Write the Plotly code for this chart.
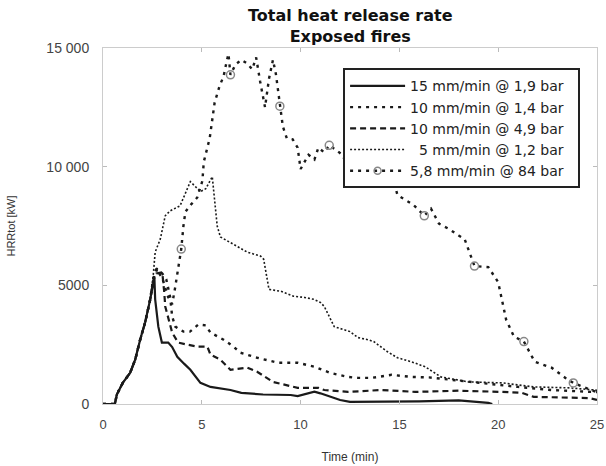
import plotly.graph_objects as go

# 15 mm/min @ 1,9 bar
t1 = [0, 0.6, 0.7, 1.0, 1.37, 1.63, 1.88, 2.13, 2.39, 2.54, 2.6, 2.64, 2.8, 2.98, 3.3, 3.5,
      3.76, 4.1, 4.42, 4.93, 5.44, 6.45, 7.0, 8.1, 9.5, 9.85, 10.3, 10.7, 11.0, 11.5, 12.0,
      12.5, 14.0, 16.0, 18.0, 19.0, 19.5, 19.7]
hrr1 = [0, 0, 400, 890, 1310, 1870, 2710, 3430, 4410, 5100, 5340, 4410, 3260, 2590, 2590, 2400,
        1990, 1700, 1440, 890, 720, 590, 470, 400, 380, 330, 420, 520, 450, 300, 170,
        90, 90, 110, 150, 100, 50, 0]

# 10 mm/min @ 1,4 bar
t2 = [0, 0.6, 0.7, 1.0, 1.37, 1.63, 1.88, 2.13, 2.39, 2.54, 2.74, 3.0, 3.2, 3.4, 3.5, 3.66,
      4.07, 4.4, 4.83, 5.2, 5.44, 6.1, 6.6, 6.96, 7.8, 8.84, 9.85, 10.7, 11.5, 12.4, 12.9,
      13.6, 14.6, 15.6, 16.5, 17.6, 19.3, 21.0, 22.7, 24.0, 25.0]
hrr2 = [0, 0, 400, 890, 1310, 1870, 2710, 3430, 4410, 5260, 5680, 5500, 5260, 4500, 3690, 3260,
        3050, 3050, 3350, 3310, 3010, 2710, 2420, 2160, 1950, 1740, 1740, 1570, 1310, 1140, 1100,
        1100, 1230, 1140, 1120, 1020, 890, 720, 590, 540, 500]

# 10 mm/min @ 4,9 bar
t3 = [0, 0.6, 0.7, 1.0, 1.37, 1.63, 1.88, 2.13, 2.39, 2.54, 2.7, 3.0, 3.1, 3.15, 3.5, 3.8,
      4.27, 4.77, 5.28, 5.44, 5.94, 6.45, 7.3, 7.8, 8.6, 9.85, 10.9, 11.2, 12.4, 14.1, 15.8,
      18.0, 20.2, 21.2, 21.8, 23.0, 24.6, 25.0]
hrr3 = [0, 0, 400, 890, 1310, 1870, 2710, 3430, 4410, 5200, 5500, 5550, 4700, 4110, 3010, 2590,
        2500, 2420, 2420, 2080, 1870, 1440, 1530, 1360, 930, 680, 680, 590, 510, 590, 510,
        560, 510, 470, 300, 280, 250, 170]

# 5 mm/min @ 1,2 bar
t4 = [0, 0.6, 0.7, 1.0, 1.37, 1.63, 1.88, 2.13, 2.39, 2.54, 2.64, 2.9, 3.15, 3.4, 3.9, 4.42,
      4.93, 5.2, 5.53, 5.78, 5.94, 6.6, 7.3, 7.98, 8.13, 8.4, 9.0, 9.65, 10.2, 10.67, 11.0,
      11.2, 11.5, 11.7, 12.5, 12.9, 13.4, 13.7, 14.4, 14.9, 15.6, 16.3, 17.1, 18.5, 20.2,
      21.8, 23.6, 24.9, 25.0]
hrr4 = [0, 0, 400, 890, 1310, 1870, 2710, 3430, 4410, 5400, 6400, 6950, 7930, 8140, 8350, 9370,
        8950, 9070, 9580, 7500, 7040, 6740, 6400, 6230, 6100, 4830, 4750, 4540, 4490, 4410, 4280,
        4110, 3560, 3260, 3050, 2800, 2710, 2630, 2200, 1950, 1780, 1570, 1140, 930, 890,
        720, 680, 590, 580]

# 5,8 mm/min @ 84 bar
t5 = [0, 0.6, 0.7, 1.0, 1.37, 1.63, 1.88, 2.13, 2.39, 2.54, 2.7, 3.0, 3.3, 3.5, 3.65, 3.8,
      3.96, 4.07, 4.17, 4.45, 4.77, 5.03, 5.1, 5.4, 5.65, 5.9, 6.1, 6.25, 6.35, 6.45, 6.7,
      7.0, 7.3, 7.55, 7.75, 7.95, 8.1, 8.2, 8.4, 8.6, 8.75, 8.95, 9.1, 9.3, 9.6, 9.85,
      10.0, 10.2, 10.4, 10.7, 10.9, 11.2, 11.45, 11.8, 12.1, 12.5, 13.0, 13.95, 14.7, 14.9,
      15.3, 15.7, 16.26, 16.6, 17.0, 17.5, 18.0, 18.3, 18.8, 19.5, 20.0, 20.2, 20.4, 20.8,
      21.3, 21.85, 22.7, 23.4, 23.8, 24.7, 25.0]
hrr5 = [0, 0, 400, 890, 1310, 1870, 2710, 3430, 4410, 5260, 5700, 5300, 4500, 4200, 4900, 5800,
        6530, 7500, 8100, 8400, 8700, 9400, 10200, 11200, 12700, 13400, 13800, 14400, 14750, 13870, 14300,
        14500, 14350, 14100, 14600, 13600, 13000, 12500, 13700, 14500, 13900, 12550, 11700, 11200, 11150, 10800,
        9900, 10200, 10500, 10300, 10800, 10600, 10900, 10700, 10500, 9900, 10000, 9800, 9500, 8800,
        8600, 8400, 7930, 8230, 7600, 7380, 7100, 6950, 5810, 5770, 5130, 4280, 3560, 2840,
        2630, 1780, 1530, 1100, 890, 590, 500]

# circle markers on the 84 bar curve
t5_mark = [3.96, 6.45, 8.95, 11.45, 13.95, 16.26, 18.8, 21.3, 23.8]
hrr5_mark = [6530, 13870, 12550, 10900, 9800, 7930, 5810, 2630, 890]

pad = '\u00a0' * 2
names = ['15 mm/min @ 1,9 bar' + pad, '10 mm/min @ 1,4 bar' + pad, '10 mm/min @ 4,9 bar' + pad,
         '\u00a0\u00a05 mm/min @ 1,2 bar' + pad, '5,8 mm/min @ 84 bar' + pad]

x_ticks = [0, 5, 10, 15, 20, 25]
y_ticks = [0, 5000, 10000, 15000]
y_ticktext = ['0', '5000', '10 000', '15 000']

ink = '#1a1a1a'

fig = go.Figure()
fig.add_trace(go.Scatter(x=t1, y=hrr1, name=names[0], mode='lines',
                         line=dict(color=ink, width=2.2)))
fig.add_trace(go.Scatter(x=t2, y=hrr2, name=names[1], mode='lines',
                         line=dict(color=ink, width=2.4, dash='3px,5px')))
fig.add_trace(go.Scatter(x=t3, y=hrr3, name=names[2], mode='lines',
                         line=dict(color=ink, width=2.2, dash='6px,4px')))
fig.add_trace(go.Scatter(x=t4, y=hrr4, name=names[3], mode='lines',
                         line=dict(color=ink, width=1.6, dash='2px,2px')))
fig.add_trace(go.Scatter(x=t5, y=hrr5, name=names[4], mode='lines', legendgroup='g5',
                         showlegend=False, line=dict(color=ink, width=2.4, dash='3px,5px')))
fig.add_trace(go.Scatter(x=t5_mark, y=hrr5_mark, mode='markers', legendgroup='g5',
                         showlegend=False,
                         marker=dict(symbol='circle-open', size=8, color='#888',
                                     line=dict(width=1.5, color='#888'))))
# legend entry for the 84 bar curve (line with circle)
fig.add_trace(go.Scatter(x=[None], y=[None], name=names[4], mode='lines+markers',
                         legendgroup='g5',
                         line=dict(color=ink, width=2.4, dash='3px,5px'),
                         marker=dict(symbol='circle-open', size=7, color='#888',
                                     line=dict(width=1.5, color='#888'))))

fig.update_layout(
    width=606, height=466,
    margin=dict(l=103, r=9, t=48, b=62),
    paper_bgcolor='white', plot_bgcolor='white',
    font=dict(family='Liberation Sans, Arial, sans-serif', color='#333', size=12),
    title=dict(text='<b>Total heat release rate<br>Exposed fires</b>',
               x=0.578, xanchor='center', y=0.955, yanchor='middle',
               font=dict(size=16, color='#111', family='DejaVu Sans, sans-serif')),
    legend=dict(x=0.486, y=0.943, xanchor='left', yanchor='top',
                bgcolor='white', bordercolor='#222', borderwidth=2,
                font=dict(size=14, color='#222', family='DejaVu Sans, sans-serif'),
                tracegroupgap=0, itemwidth=55),
    showlegend=True,
)
fig.update_xaxes(range=[0, 25], tickvals=x_ticks, ticks='inside', ticklen=4,
                 tickcolor='#bbb', showgrid=False, zeroline=False, automargin=False,
                 showline=True, linecolor='#ccc', linewidth=1, mirror='ticks',
                 ticklabelstandoff=8,
                 title=dict(text='Time (min)', font=dict(size=12), standoff=22),
                 tickfont=dict(size=13, color='#444'))
fig.update_yaxes(range=[0, 15000], tickvals=y_ticks, ticktext=y_ticktext,
                 ticks='inside', ticklen=4, tickcolor='#bbb', showgrid=False,
                 zeroline=False, showline=True, linecolor='#ccc', linewidth=1,
                 mirror='ticks', ticklabelstandoff=10, automargin=False,
                 title=dict(text='HRRtot [kW]', font=dict(size=11), standoff=28),
                 tickfont=dict(size=14, color='#444'))

fig.write_html('out.html', config={'displayModeBar': False},
               post_script="document.body.style.margin='0';")
